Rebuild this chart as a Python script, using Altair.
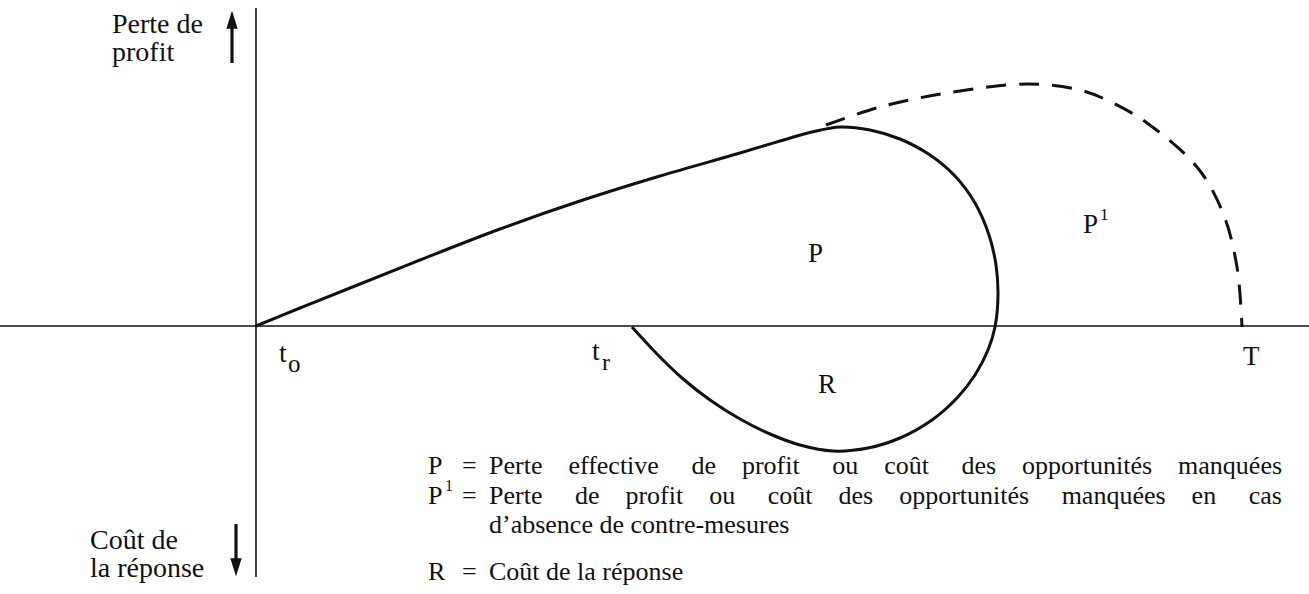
import altair as alt
import pandas as pd

# Horizontal position: time, with t0 at 0.  Vertical: profit loss (above 0)
# and cost of the response (below 0).
W, H = 1309, 594
X0, Y0 = 256, 326          # where the two axes cross

def tx(px):
    return px - X0

def ty(py):
    return Y0 - py

# Actual profit loss from t0, looping round through the response cost back to t_r
actual_px = [256, 300, 350, 420, 500, 580, 660, 740, 780, 812, 840, 870, 900, 930, 955, 975, 989,
             996, 998, 995, 988, 975, 957, 932, 900, 868, 833, 800, 770, 740, 710, 682, 657, 632]
actual_py = [326, 308, 288, 260, 229, 201, 176, 153, 141, 132, 127, 130, 139, 155, 176, 203, 235,
             265, 295, 327, 350, 375, 398, 420, 438, 448, 451, 445, 434, 419, 400, 378, 354, 327]

# Profit loss with no counter-measures (dashed), ending at T
nocm_px = [826, 880, 947, 1027, 1080, 1113, 1147, 1197, 1223, 1237, 1242]
nocm_py = [125, 107, 93, 84, 90, 103, 123, 167, 213, 267, 327]

actual = pd.DataFrame({"t": [tx(v) for v in actual_px], "v": [ty(v) for v in actual_py],
                       "i": range(len(actual_px))})
nocm = pd.DataFrame({"t": [tx(v) for v in nocm_px], "v": [ty(v) for v in nocm_py],
                     "i": range(len(nocm_px))})

xs = alt.Scale(domain=[tx(0), tx(W)], range=[0, W], nice=False, zero=False)
ys = alt.Scale(domain=[ty(H), ty(0)], range=[H, 0], nice=False, zero=False)
X = lambda f: alt.X(f, type="quantitative", scale=xs, axis=None)
Y = lambda f: alt.Y(f, type="quantitative", scale=ys, axis=None)

INK = "#111111"
FONT = "Liberation Serif"

# Axes
axes_df = pd.DataFrame({
    "t": [tx(0), tx(X0)], "t2": [tx(W), tx(X0)],
    "v": [0, ty(8)], "v2": [0, ty(577)],
})
axes = alt.Chart(axes_df).mark_rule(color=INK, strokeWidth=1.6).encode(
    x=X("t"), x2="t2", y=Y("v"), y2="v2")

# Direction arrows beside the vertical axis
arrow_df = pd.DataFrame({
    "t": [tx(232), tx(236)], "v": [ty(63), ty(524)], "v2": [ty(26), ty(562)],
})
shafts = alt.Chart(arrow_df).mark_rule(color=INK, strokeWidth=3.2).encode(
    x=X("t"), y=Y("v"), y2="v2")
heads_df = pd.DataFrame({"t": [tx(232), tx(236)], "v": [ty(22), ty(565)],
                         "shape": ["M0,-1L0.5,0.6L-0.5,0.6Z", "M0,1L0.5,-0.6L-0.5,-0.6Z"]})
heads = alt.Chart(heads_df).mark_point(filled=True, color=INK, opacity=1, size=520,
                                       strokeWidth=0).encode(
    x=X("t"), y=Y("v"), shape=alt.Shape("shape:N", scale=None))

actual_line = alt.Chart(actual).mark_line(color=INK, strokeWidth=3, interpolate="catmull-rom").encode(
    x=X("t"), y=Y("v"), order="i:Q")
nocm_line = alt.Chart(nocm).mark_line(color=INK, strokeWidth=3, strokeDash=[20, 13],
                                      interpolate="catmull-rom").encode(
    x=X("t"), y=Y("v"), order="i:Q")

# Justified legend lines: words spread with non-breaking spaces
def spread(words, gaps):
    out = words[0]
    for w, g in zip(words[1:], gaps):
        out += "\u00a0" * g + w
    return out

legend_p = spread("Perte effective de profit ou coût des opportunités manquées".split(),
                  [4, 5, 4, 5, 4, 5, 4, 4])
legend_p1 = spread("Perte de profit ou coût des opportunités manquées en cas".split(),
                   [5, 4, 4, 5, 4, 4, 5, 4, 5])

# Text labels: left edge and baseline
label_text = ["Perte de", "profit", "Coût de", "la réponse",
              "t", "o", "t", "r", "T", "P", "R", "P", "1",
              "P", "=", legend_p,
              "P", "1", "=", legend_p1,
              "d’absence de contre-mesures",
              "R", "=", "Coût de la réponse"]
label_px = [112, 112, 90, 90,
            279, 288, 592, 602, 1243, 808, 818, 1083, 1100,
            428, 462, 489,
            428, 445, 462, 489,
            489,
            428, 462, 489]
label_py = [33, 61, 549, 577,
            362, 372, 360, 370, 365, 262, 393, 233, 220,
            474, 474, 474,
            504, 491, 504, 504,
            533,
            580, 580, 580]
label_size = [28, 28, 28, 28,
              28, 25, 28, 24, 27, 27, 27, 27, 17,
              26, 26, 26,
              26, 16, 26, 26,
              26,
              26, 26, 26]

labels_df = pd.DataFrame({"t": [tx(v) for v in label_px], "v": [ty(v) for v in label_py],
                          "text": label_text, "size": label_size})
labels = alt.Chart(labels_df).mark_text(align="left", baseline="alphabetic", font=FONT,
                                        color=INK).encode(
    x=X("t"), y=Y("v"), text="text:N", size=alt.Size("size:Q", scale=None))

chart = alt.layer(axes, shafts, heads, actual_line, nocm_line, labels).properties(
    width=W, height=H, padding=0, autosize=alt.AutoSizeParams(type="none"),
    background="white",
).configure_view(stroke=None)

chart.save("out.html", embed_options={"renderer": "svg", "actions": False})
